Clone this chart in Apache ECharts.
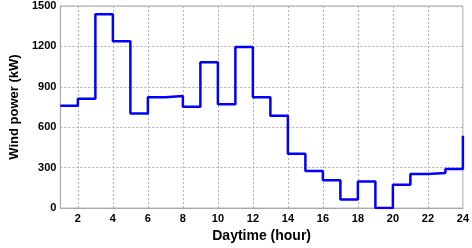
<!DOCTYPE html>
<html><head><meta charset="utf-8">
<script src="https://cdn.jsdelivr.net/npm/echarts@6/dist/echarts.min.js"></script>
<style>html,body{margin:0;padding:0;background:#fff}#c{width:472px;height:248px}</style>
</head><body><div id="c"></div>
<script>
const hours = [1,2,3,4,5,6,7,8,9,10,11,12,13,14,15,16,17,18,19,20,21,22,23,24];
const windPower = [760,812,1438,1238,703,823,832,753,1082,770,1196,822,685,403,275,206,63,197,0,174,253,260,291,537];
const xTicks = [2,4,6,8,10,12,14,16,18,20,22,24];
const yTicks = [0,300,600,900,1200,1500];

const chart = echarts.init(document.getElementById('c'));
const font = 'Arial, "Liberation Sans", sans-serif';
const gridStyle = {type: [2, 2], color: '#b0b0b0', width: 1};
chart.setOption({
  animation: false,
  grid: {left: 41, top: 6, right: 7, bottom: 29, show: true, borderColor: '#a8a8a8', borderWidth: 1},
  xAxis: {
    type: 'value', min: 1, max: 24,
    name: 'Daytime (hour)', nameLocation: 'middle', nameGap: 19,
    nameTextStyle: {fontFamily: font, fontWeight: 'bold', fontSize: 14, color: '#000'},
    axisLine: {show: true, lineStyle: {color: '#a8a8a8'}},
    axisTick: {show: false, customValues: xTicks},
    axisLabel: {fontFamily: font, fontWeight: 'bold', fontSize: 11, color: '#000', margin: 5,
      customValues: xTicks},
    splitLine: {show: true, lineStyle: {color: 'rgba(0,0,0,0)', opacity: 0, width: 0}},
    minorSplitLine: {show: false},
  },
  yAxis: {
    type: 'value', min: 0, max: 1500, interval: 300,
    name: 'Wind power (kW)', nameLocation: 'middle', nameGap: 30,
    nameTextStyle: {fontFamily: font, fontWeight: 'bold', fontSize: 13, color: '#000'},
    axisLine: {show: true, lineStyle: {color: '#a8a8a8'}},
    axisTick: {show: false},
    axisLabel: {fontFamily: font, fontWeight: 'bold', fontSize: 11, color: '#000', margin: 4,
      formatter: v => yTicks.includes(v) ? String(v) : ''},
    splitLine: {show: true, lineStyle: gridStyle},
  },
  series: [{
    type: 'line', step: 'end', symbol: 'none', z: 3,
    lineStyle: {color: '#0000ff', width: 2.5},
    data: hours.map((h, i) => [h, windPower[i]]),
    markLine: {
      silent: true, symbol: 'none', label: {show: false}, z: 1,
      lineStyle: gridStyle, emphasis: {disabled: true},
      data: xTicks.filter(v => v < 24).map(v => ({xAxis: v, lineStyle: gridStyle}))
    }
  }]
});
</script></body></html>
